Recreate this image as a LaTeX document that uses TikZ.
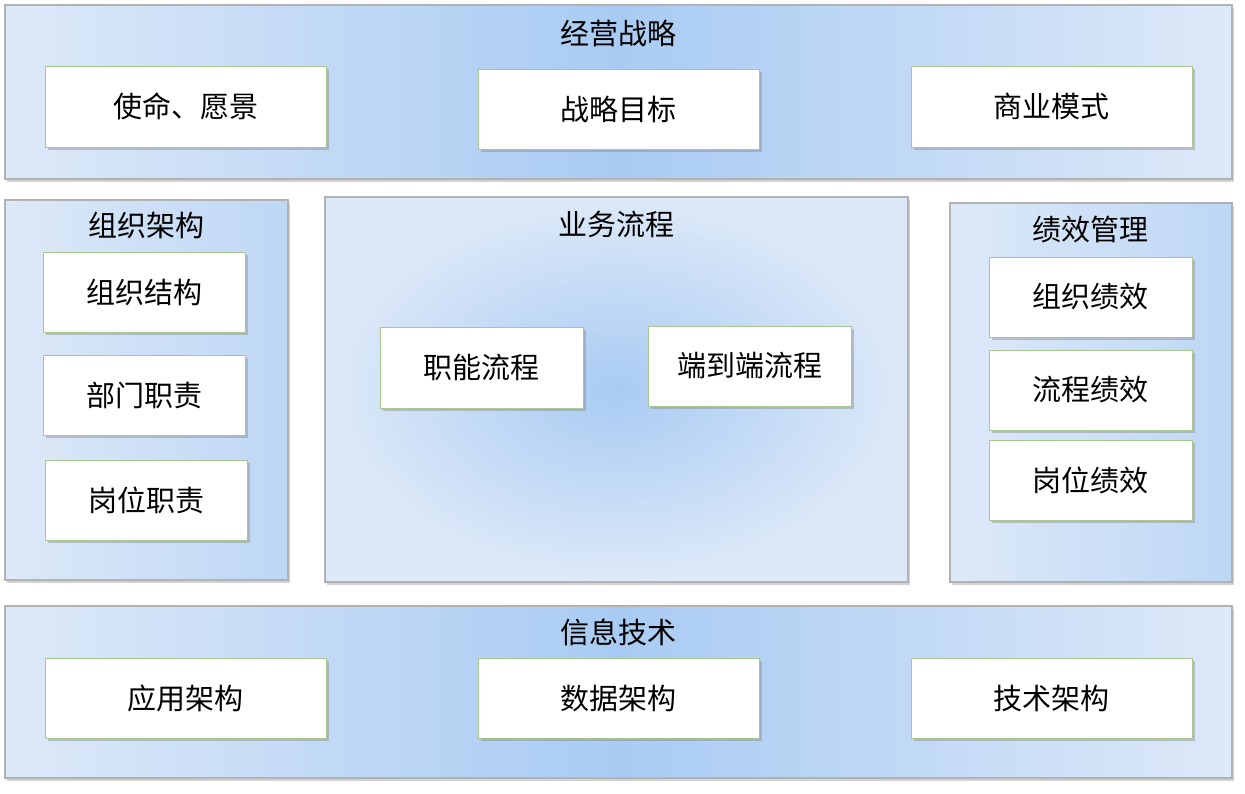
\documentclass[tikz,border=0pt]{standalone}
\usepackage{fontspec}
\newfontfamily\cjk{Noto Sans CJK SC}
\usetikzlibrary{shadows}
\definecolor{edgeblue}{HTML}{DDE9F8}
\definecolor{midblue}{HTML}{A9CBF3}
\definecolor{boxgreen}{HTML}{A8C890}
\begin{document}
\begin{tikzpicture}[x=1pt,y=-1pt,
  panel/.style={draw=black!30,line width=1.2pt,drop shadow={shadow xshift=2pt,shadow yshift=-3pt,opacity=0.35}},
  hpanel/.style={panel,left color=edgeblue,right color=edgeblue,middle color=midblue},
  vpanel/.style={panel,left color=edgeblue,right color=midblue!60!edgeblue},
  item/.style={draw=boxgreen,line width=1pt,fill=white,drop shadow={shadow xshift=3pt,shadow yshift=-3pt,opacity=0.4}},
  itxt/.style={font=\cjk\fontsize{29}{34}\selectfont},
  ttl/.style={font=\cjk\fontsize{29}{34}\selectfont}]
\useasboundingbox (0,0) rectangle (1245,793);
\fill[white] (0,0) rectangle (1245,793);
\path[hpanel] (5,5) rectangle (1232,179);
\path[vpanel] (5,200) rectangle (288,580);
\path[panel,inner color=midblue,outer color=edgeblue] (325,197) rectangle (908,582);
\path[vpanel] (950,203) rectangle (1232,582);
\path[hpanel] (5,606) rectangle (1232,778);
\node[ttl] (t1) at (618,33) {经营战略};
\node[ttl] (t2) at (146,225) {组织架构};
\node[ttl] (t3) at (616,224) {业务流程};
\node[ttl] (t4) at (1090,229) {绩效管理};
\node[ttl] (t5) at (618,632) {信息技术};
\newcommand\itembox[6]{\path[item] (#2,#3) rectangle (#4,#5); \node[itxt] (#1) at ({(#2+#4)/2},{(#3+#5)/2}) {#6};}
\itembox{a1}{45}{66}{326}{147}{使命、愿景}
\itembox{a2}{478}{69}{759}{149}{战略目标}
\itembox{a3}{911}{66}{1192}{147}{商业模式}
\itembox{b1}{43}{252}{245}{332}{组织结构}
\itembox{b2}{43}{355}{245}{435}{部门职责}
\itembox{b3}{45}{460}{247}{540}{岗位职责}
\itembox{c1}{380}{327}{583}{408}{职能流程}
\itembox{c2}{648}{326}{851}{406}{端到端流程}
\itembox{d1}{989}{257}{1192}{337}{组织绩效}
\itembox{d2}{989}{350}{1192}{430}{流程绩效}
\itembox{d3}{989}{440}{1192}{520}{岗位绩效}
\itembox{e1}{45}{658}{326}{738}{应用架构}
\itembox{e2}{478}{658}{759}{738}{数据架构}
\itembox{e3}{911}{658}{1192}{738}{技术架构}
\end{tikzpicture}
\end{document}
